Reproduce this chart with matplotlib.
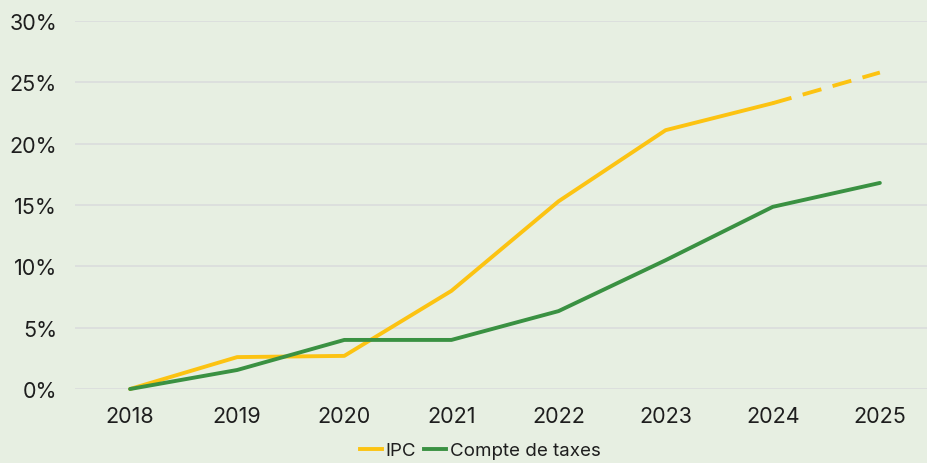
import matplotlib
matplotlib.use("Agg")
import matplotlib.pyplot as plt
from matplotlib.ticker import FuncFormatter
from matplotlib.lines import Line2D

years = [2018, 2019, 2020, 2021, 2022, 2023, 2024, 2025]
ipc = [0.0, 2.6, 2.7, 8.0, 15.3, 21.1, 23.3, 25.8]
taxes = [0.0, 1.55, 4.0, 4.0, 6.35, 10.5, 14.85, 16.8]
yticks = [0, 5, 10, 15, 20, 25, 30]

bg = "#e7efe2"
yellow = "#fcc312"
green = "#3a9142"

plt.rcParams['font.family'] = ['Inter', 'DejaVu Sans']

W, H = 927, 464
fig = plt.figure(figsize=(W/100, H/100), dpi=100, facecolor=bg)
ax = fig.add_axes([75/W, 1-390/H, (W-75)/W, (390-22)/H])
ax.set_facecolor(bg)

ax.plot(years[:7], ipc[:7], color=yellow, lw=2.8, solid_capstyle='round', clip_on=False, zorder=3)
ax.plot(years[6:], ipc[6:], color=yellow, lw=2.8, ls=(0, (5, 3)), clip_on=False, zorder=3)
ax.plot(years, taxes, color=green, lw=2.8, solid_capstyle='round', clip_on=False, zorder=3)

ax.set_xlim(2017.486, 2025.44)
ax.set_ylim(0, 30)
ax.set_yticks(yticks)
ax.set_xticks(years)
ax.yaxis.set_major_formatter(FuncFormatter(lambda v, p: f"{int(v)}%"))
ax.grid(axis='y', color='#dadcdc', lw=1.2)
ax.set_axisbelow(True)
for s in ax.spines.values():
    s.set_visible(False)
ax.tick_params(axis='both', length=0, labelsize=15.5, colors='#1e1e1e')
ax.tick_params(axis='y', pad=13)
ax.tick_params(axis='x', pad=12)

handles = [Line2D([], [], color=yellow, lw=2.8), Line2D([], [], color=green, lw=2.8)]
fig.legend(handles, ["IPC", "Compte de taxes"], loc='center', bbox_to_anchor=(0.518, 0.026),
           ncol=2, frameon=False, fontsize=13.5, handlelength=1.2, handletextpad=0.2,
           columnspacing=0.4, labelcolor='#1e1e1e', borderpad=0.1)

fig.savefig("out.png", dpi=100, facecolor=bg)
